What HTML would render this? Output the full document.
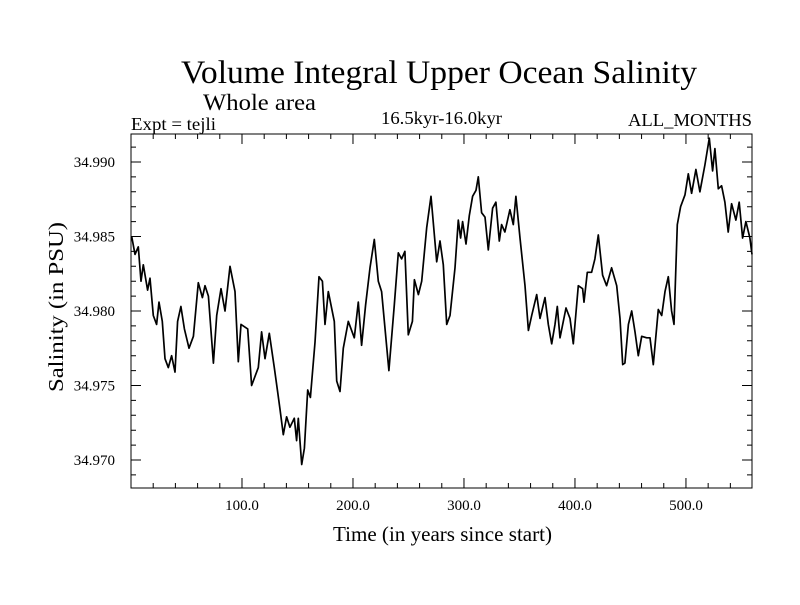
<!DOCTYPE html>
<html><head><meta charset="utf-8"><style>
body{margin:0;background:#fff}
svg text{font-family:"Liberation Serif",serif;fill:#000}
</style></head><body>
<svg id="chart" width="800" height="600" xmlns="http://www.w3.org/2000/svg">
<rect width="800" height="600" fill="#fff"/>
<text x="181" y="83" font-size="33" textLength="516" lengthAdjust="spacingAndGlyphs">Volume Integral Upper Ocean Salinity</text>
<text x="203" y="110" font-size="23" textLength="113" lengthAdjust="spacingAndGlyphs">Whole area</text>
<text x="131" y="130" font-size="18" textLength="85" lengthAdjust="spacingAndGlyphs">Expt = tejli</text>
<text x="381" y="124" font-size="18" textLength="121" lengthAdjust="spacingAndGlyphs">16.5kyr-16.0kyr</text>
<text x="628" y="126" font-size="18" textLength="124" lengthAdjust="spacingAndGlyphs">ALL_MONTHS</text>
<text x="333" y="541" font-size="21" textLength="219" lengthAdjust="spacingAndGlyphs">Time (in years since start)</text>
<text transform="translate(63,392) rotate(-90)" font-size="21" textLength="170" lengthAdjust="spacingAndGlyphs">Salinity (in PSU)</text>
<g id="axes"></g>
<g id="series"></g>
</svg>
<script>
const years=[0.6,3.6,6.6,9.0,11.1,15.0,17.1,20.1,23.1,25.2,28.2,30.6,33.6,36.6,39.6,42.0,45.0,48.1,52.3,56.2,60.6,64.3,66.7,69.7,74.2,77.2,81.1,84.7,89.2,93.7,96.7,99.1,105.1,108.7,114.7,117.7,120.7,124.6,129.1,132.1,134.2,137.2,140.2,143.2,147.1,149.2,150.7,153.8,156.2,159.2,161.6,165.8,169.4,172.4,174.8,177.8,183.2,185.3,188.3,191.3,195.8,201.2,204.8,207.8,211.4,215.3,219.2,222.8,225.8,232.4,237.2,240.8,243.8,246.8,249.8,253.5,255.3,258.9,261.9,266.4,270.3,275.4,278.4,281.4,284.4,287.4,291.9,294.9,297.0,298.8,301.8,304.8,307.8,310.8,312.9,315.9,318.9,321.9,325.8,328.8,331.8,333.9,336.9,341.4,344.4,346.8,350.5,355.0,358.0,361.0,365.5,368.5,373.0,376.0,379.0,382.0,384.1,386.5,391.9,395.5,398.5,403.0,406.9,408.1,411.1,415.0,418.0,421.0,424.9,428.5,433.0,437.6,440.6,443.0,445.0,448.1,451.1,454.1,457.1,460.1,464.6,467.6,470.6,475.1,478.1,481.1,484.1,487.1,489.2,492.2,495.2,499.1,502.1,505.1,509.0,512.6,517.1,521.0,524.0,526.1,529.1,532.1,535.1,538.1,541.1,545.0,548.0,551.0,554.0,557.6,559.5];
const salinity=[34.9850,34.9838,34.9843,34.9820,34.9831,34.9814,34.9822,34.9797,34.9791,34.9806,34.9793,34.9768,34.9762,34.9770,34.9759,34.9793,34.9803,34.9788,34.9775,34.9783,34.9819,34.9809,34.9817,34.9810,34.9765,34.9797,34.9815,34.9800,34.9830,34.9813,34.9766,34.9791,34.9788,34.9750,34.9762,34.9786,34.9768,34.9785,34.9762,34.9746,34.9734,34.9717,34.9729,34.9722,34.9728,34.9713,34.9728,34.9697,34.9708,34.9747,34.9742,34.9779,34.9823,34.9820,34.9791,34.9813,34.9793,34.9753,34.9746,34.9775,34.9793,34.9782,34.9806,34.9777,34.9804,34.9829,34.9848,34.9820,34.9813,34.9760,34.9804,34.9839,34.9835,34.9840,34.9784,34.9793,34.9821,34.9811,34.9820,34.9856,34.9877,34.9833,34.9847,34.9831,34.9791,34.9797,34.9829,34.9861,34.9849,34.9860,34.9845,34.9864,34.9877,34.9881,34.9890,34.9866,34.9863,34.9841,34.9869,34.9873,34.9847,34.9858,34.9853,34.9868,34.9858,34.9877,34.9849,34.9817,34.9787,34.9797,34.9811,34.9795,34.9809,34.9791,34.9778,34.9791,34.9803,34.9782,34.9802,34.9795,34.9778,34.9817,34.9815,34.9806,34.9826,34.9826,34.9835,34.9851,34.9824,34.9817,34.9829,34.9817,34.9795,34.9764,34.9765,34.9791,34.9800,34.9786,34.9770,34.9783,34.9782,34.9782,34.9764,34.9801,34.9797,34.9813,34.9823,34.9800,34.9791,34.9858,34.9870,34.9878,34.9892,34.9879,34.9895,34.9880,34.9898,34.9916,34.9894,34.9909,34.9882,34.9884,34.9873,34.9853,34.9872,34.9861,34.9873,34.9849,34.9860,34.9849,34.9838];
const xTickLabels=["100.0","200.0","300.0","400.0","500.0"];
const xTickValues=[100,200,300,400,500];
const yTickLabels=["34.970","34.975","34.980","34.985","34.990"];
const yTickValues=[34.970,34.975,34.980,34.985,34.990];

const L=131,R=752,T=134,B=488;
const xMin=0,xMax=559.5;
const yMin=34.96812,yMax=34.99188;
const sx=v=>L+(v-xMin)/(xMax-xMin)*(R-L);
const sy=v=>B-(v-yMin)/(yMax-yMin)*(B-T);
const NS="http://www.w3.org/2000/svg";
const axes=document.getElementById('axes');
function mk(tag,attrs,parent){const e=document.createElementNS(NS,tag);for(const k in attrs)e.setAttribute(k,attrs[k]);parent.appendChild(e);return e;}

const frame=mk('rect',{x:L,y:T,width:R-L,height:B-T,fill:'none',stroke:'#000','stroke-width':1},axes);



let d='';
for(let v=20;v<xMax;v+=20){
  const x=sx(v);const len=(v%100===0)?10:5;
  d+=`M${x},${B}V${B-len}M${x},${T}V${T+len}`;
}
for(let i=0;i<=24;i++){
  const v=34.968+i*0.001; if(v<yMin||v>yMax)continue;
  const y=sy(v);const len=(Math.round(v*1000)%5===0)?10:5;
  d+=`M${L},${y}H${L+len}M${R},${y}H${R-len}`;
}
const ticks=mk('path',{d:d,stroke:'#000','stroke-width':1,fill:'none'},axes);



xTickValues.forEach((v,i)=>{
  const t=mk('text',{x:sx(v),y:510,'font-size':15,'text-anchor':'middle'},axes);
  t.textContent=xTickLabels[i];
  
  
});
yTickValues.forEach((v,i)=>{
  const t=mk('text',{x:115,y:sy(v)+5,'font-size':15,'text-anchor':'end'},axes);
  t.textContent=yTickLabels[i];
  
  
});

const pts=years.map((yr,i)=>sx(yr).toFixed(1)+','+sy(salinity[i]).toFixed(1)).join(' ');
const line=mk('polyline',{points:pts,fill:'none',stroke:'#000','stroke-width':1.7,'stroke-linejoin':'round'},document.getElementById('series'));


</script>
</body></html>
